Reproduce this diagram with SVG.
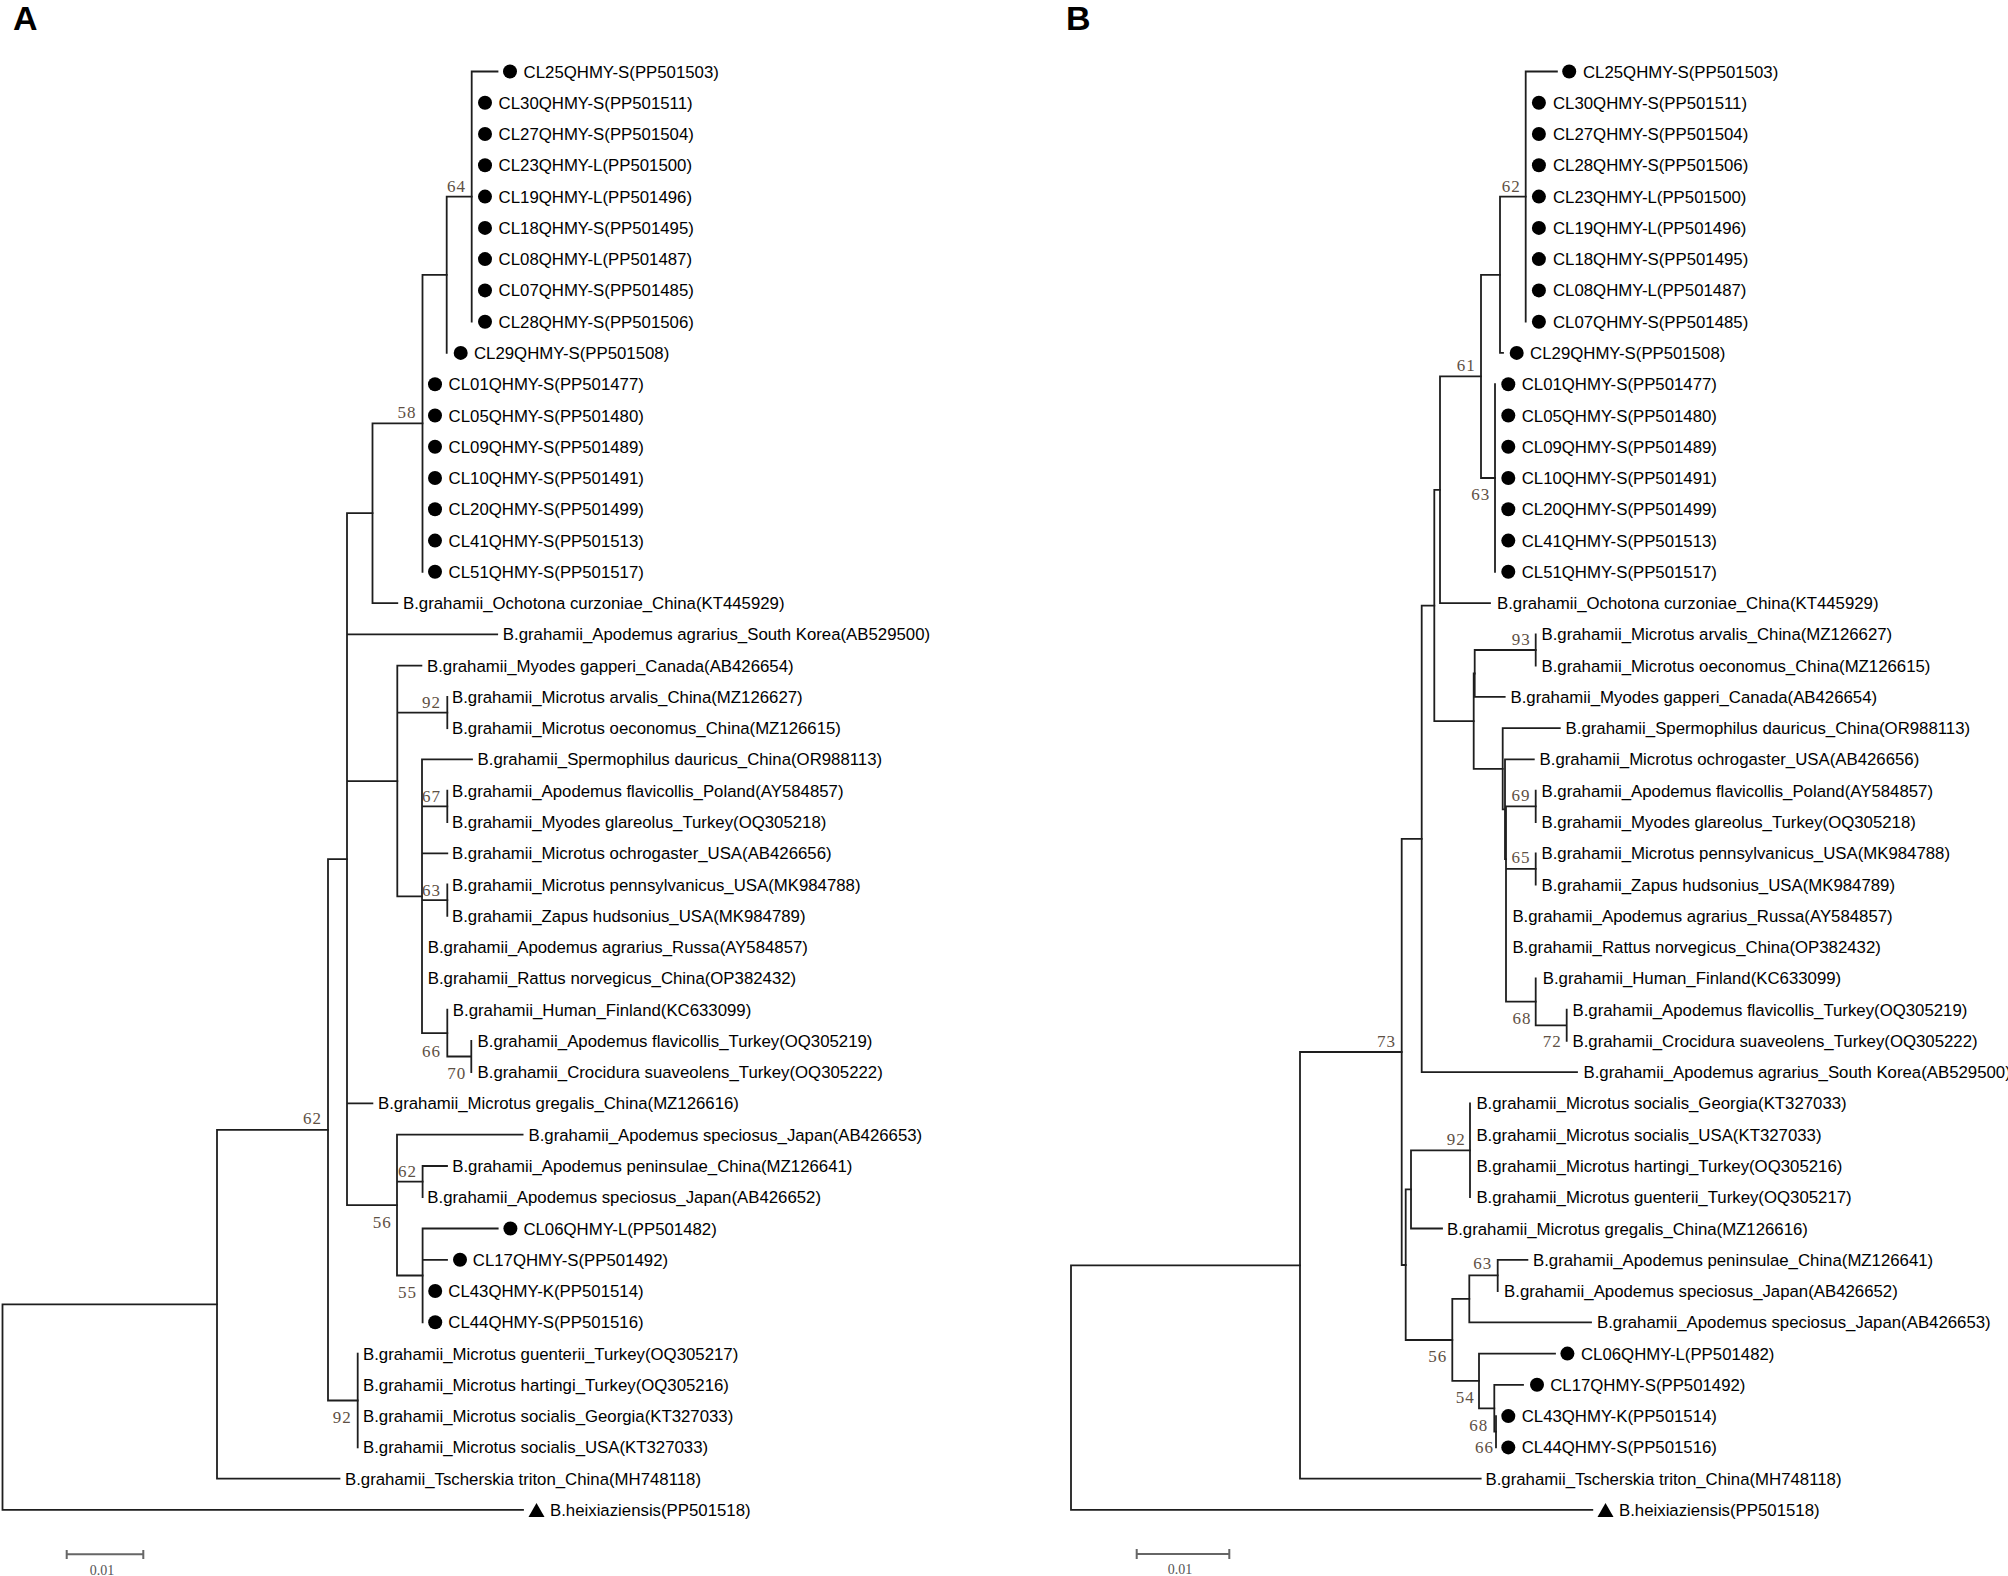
<svg xmlns="http://www.w3.org/2000/svg" width="2008" height="1576" viewBox="0 0 2008 1576">
<style>
.br{fill:none;stroke:#1e1e1e;stroke-width:1.8;stroke-linecap:square}
.lb{font-family:"Liberation Sans",Arial,sans-serif;font-size:16.8px;fill:#000}
.bs{font-family:"Liberation Serif","Times New Roman",serif;font-size:17px;fill:#5e5044;letter-spacing:1px}
.dot{fill:#000}
.sb{fill:none;stroke:#666;stroke-width:2}
.sbt{font-family:"Liberation Serif","Times New Roman",serif;font-size:14px;fill:#555}
.pl{font-family:"Liberation Sans",Arial,sans-serif;font-size:34px;font-weight:bold;fill:#000}
</style>
<defs>
<circle id="dt" r="7" class="dot"/>
<path id="tri" d="M0 -7 L8 7 L-8 7 Z" fill="#000"/>
</defs>
<rect width="2008" height="1576" fill="#fff"/>
<text class="pl" x="13" y="30">A</text>
<text class="pl" x="1066" y="30">B</text>

<g id="treeA-connectors">
<path class="br" d="M2.5 1304.3 V1509.9 M2.5 1304.3 H217 M2.5 1509.9 H523"/>
<path class="br" d="M217 1129.9 V1478.7 M217 1129.9 H328 M217 1478.7 H339.5"/>
<path class="br" d="M328 859.2 V1400.5 M328 859.2 H347 M328 1400.5 H357.7"/>
<path class="br" d="M357.7 1353.6 V1447.4"/>
<path class="br" d="M347 513.2 V1205.1 M347 513.2 H372.5 M347 634.4 H497.2 M347 781.1 H397.3 M347 1103.4 H372.4 M347 1205.1 H397"/>
<path class="br" d="M372.5 423.3 V603.1 M372.5 423.3 H422.5 M372.5 603.1 H397.3"/>
<path class="br" d="M422.5 274.8 V571.8 M422.5 274.8 H446.7"/>
<path class="br" d="M446.7 196.6 V352.9 M446.7 196.6 H471.7"/>
<path class="br" d="M471.7 71.5 V321.7 M471.7 71.5 H497.5"/>
<path class="br" d="M397.3 665.6 V896.3 M397.3 665.6 H421.4 M397.3 712.6 H447.3 M397.3 896.3 H422"/>
<path class="br" d="M447.3 696.9 V728.2"/>
<path class="br" d="M422 759.4 V1033.1 M422 759.4 H472 M422 806.3 H447.3 M422 853.3 H447.3 M422 900.2 H447.3 M422 1033.1 H447.3"/>
<path class="br" d="M447.3 790.7 V822 M447.3 884.5 V915.8 M447.3 1009.6 V1056.5 M447.3 1056.5 H471.3 M471.3 1040.9 V1072.1"/>
<path class="br" d="M397 1134.7 V1275.5 M397 1134.7 H522.6 M397 1181.6 H422.6 M397 1275.5 H422.6"/>
<path class="br" d="M422.6 1166 V1197.2 M422.6 1166 H447"/>
<path class="br" d="M422.6 1228.5 V1322.3 M422.6 1228.5 H497.7 M422.6 1259.8 H447"/>
</g>

<g id="treeA-support">
<text class="bs" x="447" y="191.7">64</text>
<text class="bs" x="397.5" y="418">58</text>
<text class="bs" x="422" y="707.5">92</text>
<text class="bs" x="422" y="801.5">67</text>
<text class="bs" x="422" y="895.5">63</text>
<text class="bs" x="422" y="1057">66</text>
<text class="bs" x="447.3" y="1079">70</text>
<text class="bs" x="303" y="1124">62</text>
<text class="bs" x="398" y="1176.5">62</text>
<text class="bs" x="372.7" y="1227.5">56</text>
<text class="bs" x="398" y="1298">55</text>
<text class="bs" x="332.7" y="1423">92</text>
</g>

<g id="treeA-leaves">
<g id="A-CL25"><use href="#dt" x="510" y="71.5"/><text class="lb" x="523.6" y="77.5">CL25QHMY-S(PP501503)</text></g>
<g id="A-CL30"><use href="#dt" x="485" y="102.8"/><text class="lb" x="498.6" y="108.8">CL30QHMY-S(PP501511)</text></g>
<g id="A-CL27"><use href="#dt" x="485" y="134"/><text class="lb" x="498.6" y="140">CL27QHMY-S(PP501504)</text></g>
<g id="A-CL23"><use href="#dt" x="485" y="165.3"/><text class="lb" x="498.6" y="171.3">CL23QHMY-L(PP501500)</text></g>
<g id="A-CL19"><use href="#dt" x="485" y="196.6"/><text class="lb" x="498.6" y="202.6">CL19QHMY-L(PP501496)</text></g>
<g id="A-CL18"><use href="#dt" x="485" y="227.9"/><text class="lb" x="498.6" y="233.9">CL18QHMY-S(PP501495)</text></g>
<g id="A-CL08"><use href="#dt" x="485" y="259.1"/><text class="lb" x="498.6" y="265.1">CL08QHMY-L(PP501487)</text></g>
<g id="A-CL07"><use href="#dt" x="485" y="290.4"/><text class="lb" x="498.6" y="296.4">CL07QHMY-S(PP501485)</text></g>
<g id="A-CL28"><use href="#dt" x="485" y="321.7"/><text class="lb" x="498.6" y="327.7">CL28QHMY-S(PP501506)</text></g>
<g id="A-CL29"><use href="#dt" x="460.7" y="352.9"/><text class="lb" x="474" y="358.9">CL29QHMY-S(PP501508)</text></g>
<g id="A-CL01"><use href="#dt" x="435" y="384.2"/><text class="lb" x="448.6" y="390.2">CL01QHMY-S(PP501477)</text></g>
<g id="A-CL05"><use href="#dt" x="435" y="415.5"/><text class="lb" x="448.6" y="421.5">CL05QHMY-S(PP501480)</text></g>
<g id="A-CL09"><use href="#dt" x="435" y="446.7"/><text class="lb" x="448.6" y="452.7">CL09QHMY-S(PP501489)</text></g>
<g id="A-CL10"><use href="#dt" x="435" y="478"/><text class="lb" x="448.6" y="484">CL10QHMY-S(PP501491)</text></g>
<g id="A-CL20"><use href="#dt" x="435" y="509.3"/><text class="lb" x="448.6" y="515.3">CL20QHMY-S(PP501499)</text></g>
<g id="A-CL41"><use href="#dt" x="435" y="540.6"/><text class="lb" x="448.6" y="546.6">CL41QHMY-S(PP501513)</text></g>
<g id="A-CL51"><use href="#dt" x="435" y="571.8"/><text class="lb" x="448.6" y="577.8">CL51QHMY-S(PP501517)</text></g>
<g id="A-KT445929"><text class="lb" x="403" y="609.1">B.grahamii_Ochotona curzoniae_China(KT445929)</text></g>
<g id="A-AB529500"><text class="lb" x="502.8" y="640.4">B.grahamii_Apodemus agrarius_South Korea(AB529500)</text></g>
<g id="A-AB426654"><text class="lb" x="427" y="671.6">B.grahamii_Myodes gapperi_Canada(AB426654)</text></g>
<g id="A-MZ126627"><text class="lb" x="452" y="702.9">B.grahamii_Microtus arvalis_China(MZ126627)</text></g>
<g id="A-MZ126615"><text class="lb" x="452" y="734.2">B.grahamii_Microtus oeconomus_China(MZ126615)</text></g>
<g id="A-OR988113"><text class="lb" x="477.6" y="765.4">B.grahamii_Spermophilus dauricus_China(OR988113)</text></g>
<g id="A-AY584857p"><text class="lb" x="452" y="796.7">B.grahamii_Apodemus flavicollis_Poland(AY584857)</text></g>
<g id="A-OQ305218"><text class="lb" x="452" y="828">B.grahamii_Myodes glareolus_Turkey(OQ305218)</text></g>
<g id="A-AB426656"><text class="lb" x="452" y="859.3">B.grahamii_Microtus ochrogaster_USA(AB426656)</text></g>
<g id="A-MK984788"><text class="lb" x="452" y="890.5">B.grahamii_Microtus pennsylvanicus_USA(MK984788)</text></g>
<g id="A-MK984789"><text class="lb" x="452" y="921.8">B.grahamii_Zapus hudsonius_USA(MK984789)</text></g>
<g id="A-AY584857r"><text class="lb" x="427.7" y="953.1">B.grahamii_Apodemus agrarius_Russa(AY584857)</text></g>
<g id="A-OP382432"><text class="lb" x="427.7" y="984.3">B.grahamii_Rattus norvegicus_China(OP382432)</text></g>
<g id="A-KC633099"><text class="lb" x="452.8" y="1015.6">B.grahamii_Human_Finland(KC633099)</text></g>
<g id="A-OQ305219"><text class="lb" x="477.6" y="1046.9">B.grahamii_Apodemus flavicollis_Turkey(OQ305219)</text></g>
<g id="A-OQ305222"><text class="lb" x="477.6" y="1078.1">B.grahamii_Crocidura suaveolens_Turkey(OQ305222)</text></g>
<g id="A-MZ126616"><text class="lb" x="378" y="1109.4">B.grahamii_Microtus gregalis_China(MZ126616)</text></g>
<g id="A-AB426653"><text class="lb" x="528.5" y="1140.7">B.grahamii_Apodemus speciosus_Japan(AB426653)</text></g>
<g id="A-MZ126641"><text class="lb" x="452.2" y="1172">B.grahamii_Apodemus peninsulae_China(MZ126641)</text></g>
<g id="A-AB426652"><text class="lb" x="427.3" y="1203.2">B.grahamii_Apodemus speciosus_Japan(AB426652)</text></g>
<g id="A-CL06"><use href="#dt" x="510.4" y="1228.5"/><text class="lb" x="523.4" y="1234.5">CL06QHMY-L(PP501482)</text></g>
<g id="A-CL17"><use href="#dt" x="460" y="1259.8"/><text class="lb" x="472.8" y="1265.8">CL17QHMY-S(PP501492)</text></g>
<g id="A-CL43"><use href="#dt" x="435.2" y="1291"/><text class="lb" x="448.3" y="1297">CL43QHMY-K(PP501514)</text></g>
<g id="A-CL44"><use href="#dt" x="435.2" y="1322.3"/><text class="lb" x="448.3" y="1328.3">CL44QHMY-S(PP501516)</text></g>
<g id="A-OQ305217"><text class="lb" x="363" y="1359.6">B.grahamii_Microtus guenterii_Turkey(OQ305217)</text></g>
<g id="A-OQ305216"><text class="lb" x="363" y="1390.8">B.grahamii_Microtus hartingi_Turkey(OQ305216)</text></g>
<g id="A-KT327033g"><text class="lb" x="363" y="1422.1">B.grahamii_Microtus socialis_Georgia(KT327033)</text></g>
<g id="A-KT327033u"><text class="lb" x="363" y="1453.4">B.grahamii_Microtus socialis_USA(KT327033)</text></g>
<g id="A-MH748118"><text class="lb" x="345" y="1484.7">B.grahamii_Tscherskia triton_China(MH748118)</text></g>
<g id="A-PP501518"><use href="#tri" x="536.5" y="1509.9"/><text class="lb" x="550" y="1515.9">B.heixiaziensis(PP501518)</text></g>
</g>

<g id="scaleA">
<path class="sb" d="M66.7 1554.3 H143.3 M66.7 1550 V1559 M143.3 1550 V1559"/>
<text class="sbt" x="102" y="1575" text-anchor="middle">0.01</text>
</g>

<g id="treeB-connectors">
<path class="br" d="M1071 1265.3 V1509.9 M1071 1265.3 H1300 M1071 1509.9 H1592.3"/>
<path class="br" d="M1300 1052 V1478.7 M1300 1052 H1401.7 M1300 1478.7 H1480.7"/>
<path class="br" d="M1401.7 838.9 V1265 M1401.7 838.9 H1421.7 M1401.7 1265 H1405.7"/>
<path class="br" d="M1421.7 605.6 V1072.1 M1421.7 605.6 H1434.3 M1421.7 1072.1 H1577"/>
<path class="br" d="M1434.3 489.8 V721.2 M1434.3 489.8 H1440 M1434.3 721.2 H1473.7"/>
<path class="br" d="M1440 376.4 V603.1 M1440 376.4 H1481 M1440 603.1 H1490"/>
<path class="br" d="M1481 274.8 V478 M1481 274.8 H1500 M1481 478 H1495"/>
<path class="br" d="M1495 384.2 V571.8"/>
<path class="br" d="M1500 196.6 V352.9 M1500 196.6 H1525.7 M1500 352.9 H1503"/>
<path class="br" d="M1525.7 71.5 V321.7 M1525.7 71.5 H1556.9"/>
<path class="br" d="M1473.7 673.5 V768.8 M1473.7 673.5 H1474.7 M1473.7 768.8 H1502.7"/>
<path class="br" d="M1474.7 650 V696.9 M1474.7 650 H1535.7 M1474.7 696.9 H1504.7"/>
<path class="br" d="M1535.7 634.4 V665.6"/>
<path class="br" d="M1502.7 728.2 V809.3 M1502.7 728.2 H1559.8 M1502.7 809.3 H1505"/>
<path class="br" d="M1505 759.4 V859.2 M1505 759.4 H1533.8 M1505 859.2 H1506"/>
<path class="br" d="M1506 806.3 V1001.7 M1506 806.3 H1535.7 M1506 868.9 H1535.7 M1506 1001.7 H1535.7"/>
<path class="br" d="M1535.7 790.7 V822 M1535.7 853.3 V884.5 M1535.7 978.3 V1025.3 M1535.7 1025.3 H1566.7 M1566.7 1009.6 V1040.9"/>
<path class="br" d="M1405.7 1189.4 V1340 M1405.7 1189.4 H1411 M1405.7 1340 H1452.3"/>
<path class="br" d="M1411 1150.3 V1228.5 M1411 1150.3 H1470 M1411 1228.5 H1442"/>
<path class="br" d="M1470 1103.4 V1197.2"/>
<path class="br" d="M1452.3 1298.9 V1380.9 M1452.3 1298.9 H1469.3 M1452.3 1380.9 H1479"/>
<path class="br" d="M1469.3 1275.4 V1322.3 M1469.3 1275.4 H1497.7 M1469.3 1322.3 H1591"/>
<path class="br" d="M1497.7 1259.8 V1291 M1497.7 1259.8 H1527.4"/>
<path class="br" d="M1479 1353.6 V1408.3 M1479 1353.6 H1555 M1479 1408.3 H1494.3"/>
<path class="br" d="M1494.3 1384.8 V1431.7 M1494.3 1384.8 H1523 M1494.3 1431.7 H1496"/>
<path class="br" d="M1496 1416.1 V1447.4"/>
</g>

<g id="treeB-support">
<text class="bs" x="1501.7" y="191.7">62</text>
<text class="bs" x="1456.7" y="371">61</text>
<text class="bs" x="1471.3" y="500">63</text>
<text class="bs" x="1511.7" y="645">93</text>
<text class="bs" x="1511.5" y="800.5">69</text>
<text class="bs" x="1511.5" y="863.3">65</text>
<text class="bs" x="1512.4" y="1024">68</text>
<text class="bs" x="1542.7" y="1047.3">72</text>
<text class="bs" x="1377" y="1046.5">73</text>
<text class="bs" x="1446.7" y="1145">92</text>
<text class="bs" x="1473.3" y="1269.3">63</text>
<text class="bs" x="1428.3" y="1361.7">56</text>
<text class="bs" x="1455.7" y="1402.7">54</text>
<text class="bs" x="1469.3" y="1430.7">68</text>
<text class="bs" x="1475" y="1453.3">66</text>
</g>

<g id="treeB-leaves">
<g id="B-CL25"><use href="#dt" x="1569.2" y="71.5"/><text class="lb" x="1583" y="77.5">CL25QHMY-S(PP501503)</text></g>
<g id="B-CL30"><use href="#dt" x="1538.9" y="102.8"/><text class="lb" x="1553" y="108.8">CL30QHMY-S(PP501511)</text></g>
<g id="B-CL27"><use href="#dt" x="1538.9" y="134"/><text class="lb" x="1553" y="140">CL27QHMY-S(PP501504)</text></g>
<g id="B-CL28"><use href="#dt" x="1538.9" y="165.3"/><text class="lb" x="1553" y="171.3">CL28QHMY-S(PP501506)</text></g>
<g id="B-CL23"><use href="#dt" x="1538.9" y="196.6"/><text class="lb" x="1553" y="202.6">CL23QHMY-L(PP501500)</text></g>
<g id="B-CL19"><use href="#dt" x="1538.9" y="227.9"/><text class="lb" x="1553" y="233.9">CL19QHMY-L(PP501496)</text></g>
<g id="B-CL18"><use href="#dt" x="1538.9" y="259.1"/><text class="lb" x="1553" y="265.1">CL18QHMY-S(PP501495)</text></g>
<g id="B-CL08"><use href="#dt" x="1538.9" y="290.4"/><text class="lb" x="1553" y="296.4">CL08QHMY-L(PP501487)</text></g>
<g id="B-CL07"><use href="#dt" x="1538.9" y="321.7"/><text class="lb" x="1553" y="327.7">CL07QHMY-S(PP501485)</text></g>
<g id="B-CL29"><use href="#dt" x="1516.7" y="352.9"/><text class="lb" x="1530.1" y="358.9">CL29QHMY-S(PP501508)</text></g>
<g id="B-CL01"><use href="#dt" x="1508.3" y="384.2"/><text class="lb" x="1521.7" y="390.2">CL01QHMY-S(PP501477)</text></g>
<g id="B-CL05"><use href="#dt" x="1508.3" y="415.5"/><text class="lb" x="1521.7" y="421.5">CL05QHMY-S(PP501480)</text></g>
<g id="B-CL09"><use href="#dt" x="1508.3" y="446.7"/><text class="lb" x="1521.7" y="452.7">CL09QHMY-S(PP501489)</text></g>
<g id="B-CL10"><use href="#dt" x="1508.3" y="478"/><text class="lb" x="1521.7" y="484">CL10QHMY-S(PP501491)</text></g>
<g id="B-CL20"><use href="#dt" x="1508.3" y="509.3"/><text class="lb" x="1521.7" y="515.3">CL20QHMY-S(PP501499)</text></g>
<g id="B-CL41"><use href="#dt" x="1508.3" y="540.6"/><text class="lb" x="1521.7" y="546.6">CL41QHMY-S(PP501513)</text></g>
<g id="B-CL51"><use href="#dt" x="1508.3" y="571.8"/><text class="lb" x="1521.7" y="577.8">CL51QHMY-S(PP501517)</text></g>
<g id="B-KT445929"><text class="lb" x="1497" y="609.1">B.grahamii_Ochotona curzoniae_China(KT445929)</text></g>
<g id="B-MZ126627"><text class="lb" x="1541.5" y="640.4">B.grahamii_Microtus arvalis_China(MZ126627)</text></g>
<g id="B-MZ126615"><text class="lb" x="1541.5" y="671.6">B.grahamii_Microtus oeconomus_China(MZ126615)</text></g>
<g id="B-AB426654"><text class="lb" x="1510.5" y="702.9">B.grahamii_Myodes gapperi_Canada(AB426654)</text></g>
<g id="B-OR988113"><text class="lb" x="1565.6" y="734.2">B.grahamii_Spermophilus dauricus_China(OR988113)</text></g>
<g id="B-AB426656"><text class="lb" x="1539.6" y="765.4">B.grahamii_Microtus ochrogaster_USA(AB426656)</text></g>
<g id="B-AY584857p"><text class="lb" x="1541.5" y="796.7">B.grahamii_Apodemus flavicollis_Poland(AY584857)</text></g>
<g id="B-OQ305218"><text class="lb" x="1541.5" y="828">B.grahamii_Myodes glareolus_Turkey(OQ305218)</text></g>
<g id="B-MK984788"><text class="lb" x="1541.5" y="859.3">B.grahamii_Microtus pennsylvanicus_USA(MK984788)</text></g>
<g id="B-MK984789"><text class="lb" x="1541.5" y="890.5">B.grahamii_Zapus hudsonius_USA(MK984789)</text></g>
<g id="B-AY584857r"><text class="lb" x="1512.4" y="921.8">B.grahamii_Apodemus agrarius_Russa(AY584857)</text></g>
<g id="B-OP382432"><text class="lb" x="1512.4" y="953.1">B.grahamii_Rattus norvegicus_China(OP382432)</text></g>
<g id="B-KC633099"><text class="lb" x="1542.7" y="984.3">B.grahamii_Human_Finland(KC633099)</text></g>
<g id="B-OQ305219"><text class="lb" x="1572.5" y="1015.6">B.grahamii_Apodemus flavicollis_Turkey(OQ305219)</text></g>
<g id="B-OQ305222"><text class="lb" x="1572.5" y="1046.9">B.grahamii_Crocidura suaveolens_Turkey(OQ305222)</text></g>
<g id="B-AB529500"><text class="lb" x="1583.5" y="1078.1">B.grahamii_Apodemus agrarius_South Korea(AB529500)</text></g>
<g id="B-KT327033g"><text class="lb" x="1476.4" y="1109.4">B.grahamii_Microtus socialis_Georgia(KT327033)</text></g>
<g id="B-KT327033u"><text class="lb" x="1476.4" y="1140.7">B.grahamii_Microtus socialis_USA(KT327033)</text></g>
<g id="B-OQ305216"><text class="lb" x="1476.4" y="1172">B.grahamii_Microtus hartingi_Turkey(OQ305216)</text></g>
<g id="B-OQ305217"><text class="lb" x="1476.4" y="1203.2">B.grahamii_Microtus guenterii_Turkey(OQ305217)</text></g>
<g id="B-MZ126616"><text class="lb" x="1447" y="1234.5">B.grahamii_Microtus gregalis_China(MZ126616)</text></g>
<g id="B-MZ126641"><text class="lb" x="1533" y="1265.8">B.grahamii_Apodemus peninsulae_China(MZ126641)</text></g>
<g id="B-AB426652"><text class="lb" x="1504.1" y="1297">B.grahamii_Apodemus speciosus_Japan(AB426652)</text></g>
<g id="B-AB426653"><text class="lb" x="1597" y="1328.3">B.grahamii_Apodemus speciosus_Japan(AB426653)</text></g>
<g id="B-CL06"><use href="#dt" x="1567.4" y="1353.6"/><text class="lb" x="1581" y="1359.6">CL06QHMY-L(PP501482)</text></g>
<g id="B-CL17"><use href="#dt" x="1537" y="1384.8"/><text class="lb" x="1550.2" y="1390.8">CL17QHMY-S(PP501492)</text></g>
<g id="B-CL43"><use href="#dt" x="1508.3" y="1416.1"/><text class="lb" x="1521.7" y="1422.1">CL43QHMY-K(PP501514)</text></g>
<g id="B-CL44"><use href="#dt" x="1508.3" y="1447.4"/><text class="lb" x="1521.7" y="1453.4">CL44QHMY-S(PP501516)</text></g>
<g id="B-MH748118"><text class="lb" x="1485.5" y="1484.7">B.grahamii_Tscherskia triton_China(MH748118)</text></g>
<g id="B-PP501518"><use href="#tri" x="1605.5" y="1509.9"/><text class="lb" x="1619" y="1515.9">B.heixiaziensis(PP501518)</text></g>
</g>

<g id="scaleB">
<path class="sb" d="M1136.7 1554 H1229.3 M1136.7 1549 V1559 M1229.3 1549 V1559"/>
<text class="sbt" x="1180" y="1574" text-anchor="middle">0.01</text>
</g>
</svg>
